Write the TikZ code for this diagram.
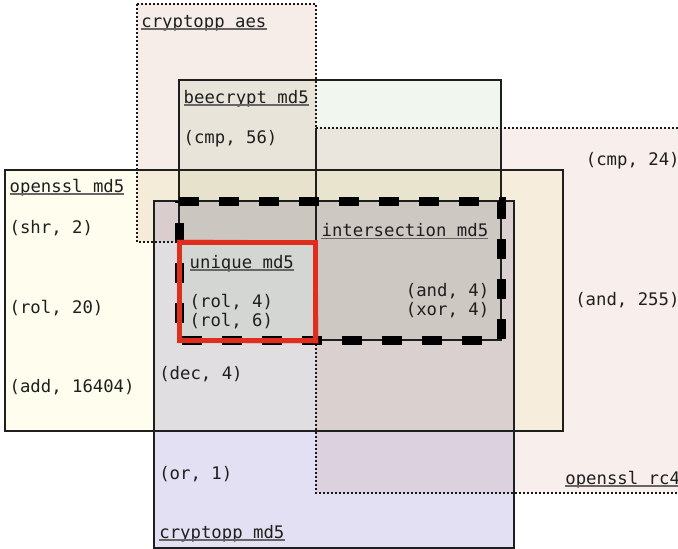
\documentclass[tikz,border=0pt]{standalone}
\usepackage{fontspec}
\newfontfamily\diafont{DejaVu Sans Mono}
\definecolor{aescol}{HTML}{F6EDE9}
\definecolor{beecol}{HTML}{F1F6EF}
\definecolor{omdcol}{HTML}{FEFDEE}
\definecolor{rc4col}{HTML}{F8EFEC}
\definecolor{cmdcol}{HTML}{E2E0F2}
\definecolor{sketchred}{HTML}{DF2E1E}
\tikzset{
  setfill/.style={fill=#1, blend mode=multiply},
  edge/.style={draw=black!88, line width=1.2pt},
  dotedge/.style={draw=black!90, line width=1.1pt, dash pattern=on 1.8pt off 2.2pt},
  lbl/.style={anchor=base west, inner sep=0pt, text=black!88,
    font=\diafont\fontsize{17.3}{20}\selectfont},
  uline/.style={draw=black!60, line width=1.2pt},
}
\begin{document}
\begin{tikzpicture}[x=1pt, y=-1pt, line join=miter]
  \useasboundingbox (0,0) rectangle (678,549);
  \clip (0,0) rectangle (678,549);
  \fill[white] (0,0) rectangle (678,549);

  % corners of the sets
  \coordinate (aes1) at (137,4);   \coordinate (aes2) at (316,242);
  \coordinate (bee1) at (179,80);  \coordinate (bee2) at (501,340);
  \coordinate (omd1) at (5,170);   \coordinate (omd2) at (563,431);
  \coordinate (rc41) at (316,128); \coordinate (rc42) at (700,493);
  \coordinate (cmd1) at (154,201); \coordinate (cmd2) at (514,548);

  % fills, multiplied so overlaps darken
  \fill[setfill=aescol] (aes1) rectangle (aes2);
  \fill[setfill=beecol] (bee1) rectangle (bee2);
  \fill[setfill=omdcol] (omd1) rectangle (omd2);
  \fill[setfill=rc4col] (rc41) rectangle (rc42);
  \fill[setfill=cmdcol] (cmd1) rectangle (cmd2);

  % borders
  \draw[dotedge] (aes1) rectangle (aes2);
  \draw[dotedge] (rc41) rectangle (rc42);
  \draw[edge] (bee1) rectangle (bee2);
  \draw[edge] (omd1) rectangle (omd2);
  \draw[edge] (cmd1) rectangle (cmd2);
  \draw[edge] (rc41) -- (316,340);

  % intersection of the md5 sets
  \coordinate (int1) at (179,201); \coordinate (int2) at (501,201);
  \coordinate (int3) at (501,340); \coordinate (int4) at (179,340);
  \draw[line width=9pt, dash pattern=on 20pt off 20pt]
    (int1) -- (int2) -- (int3) -- (int4) -- cycle;

  % unique md5, sketched in red
  \draw[sketchred, line width=5pt] (179.5,242) rectangle (315.5,340.5);
  \draw[sketchred, line width=2pt, opacity=.6] (178.5,240.5) -- (316.5,241.5)
    -- (317.5,342.5) -- (178,342) -- cycle;

  % set labels
  \node[lbl] (aes) at (141.2,27) {cryptopp aes};
  \node[lbl] (bee) at (183.5,103) {beecrypt md5};
  \node[lbl] (omd) at (9.5,192) {openssl md5};
  \node[lbl] (int) at (321.4,236.5) {intersection md5};
  \node[lbl] (uni) at (189.5,268) {unique md5};
  \node[lbl] (rc4) at (565.2,484) {openssl rc4};
  \node[lbl] (cmd) at (159.2,538) {cryptopp md5};
  \foreach \n in {aes,bee,omd,int,uni,rc4,cmd}
    \draw[uline] ([yshift=-2pt]\n.base west) -- ([yshift=-2pt]\n.base east);

  % instruction counts
  \node[lbl] (cmpbee) at (183.4,143) {(cmp, 56)};
  \node[lbl] (shr) at (9.4,233) {(shr, 2)};
  \node[lbl] (rolomd) at (9.4,313) {(rol, 20)};
  \node[lbl] (addomd) at (9.4,392) {(add, 16404)};
  \node[lbl] (deccmd) at (159.1,379) {(dec, 4)};
  \node[lbl] (roluni) at (189.5,307.5) {(rol, 4)};
  \node[lbl] (rolunib) at (189.5,326.5) {(rol, 6)};
  \node[lbl] (andint) at (405.7,296) {(and, 4)};
  \node[lbl] (xorint) at (405.7,315) {(xor, 4)};
  \node[lbl] (cmprc) at (585.7,165) {(cmp, 24)};
  \node[lbl] (andrc) at (575.1,305) {(and, 255)};
  \node[lbl] (orcmd) at (159.1,479) {(or, 1)};
\end{tikzpicture}
\end{document}
